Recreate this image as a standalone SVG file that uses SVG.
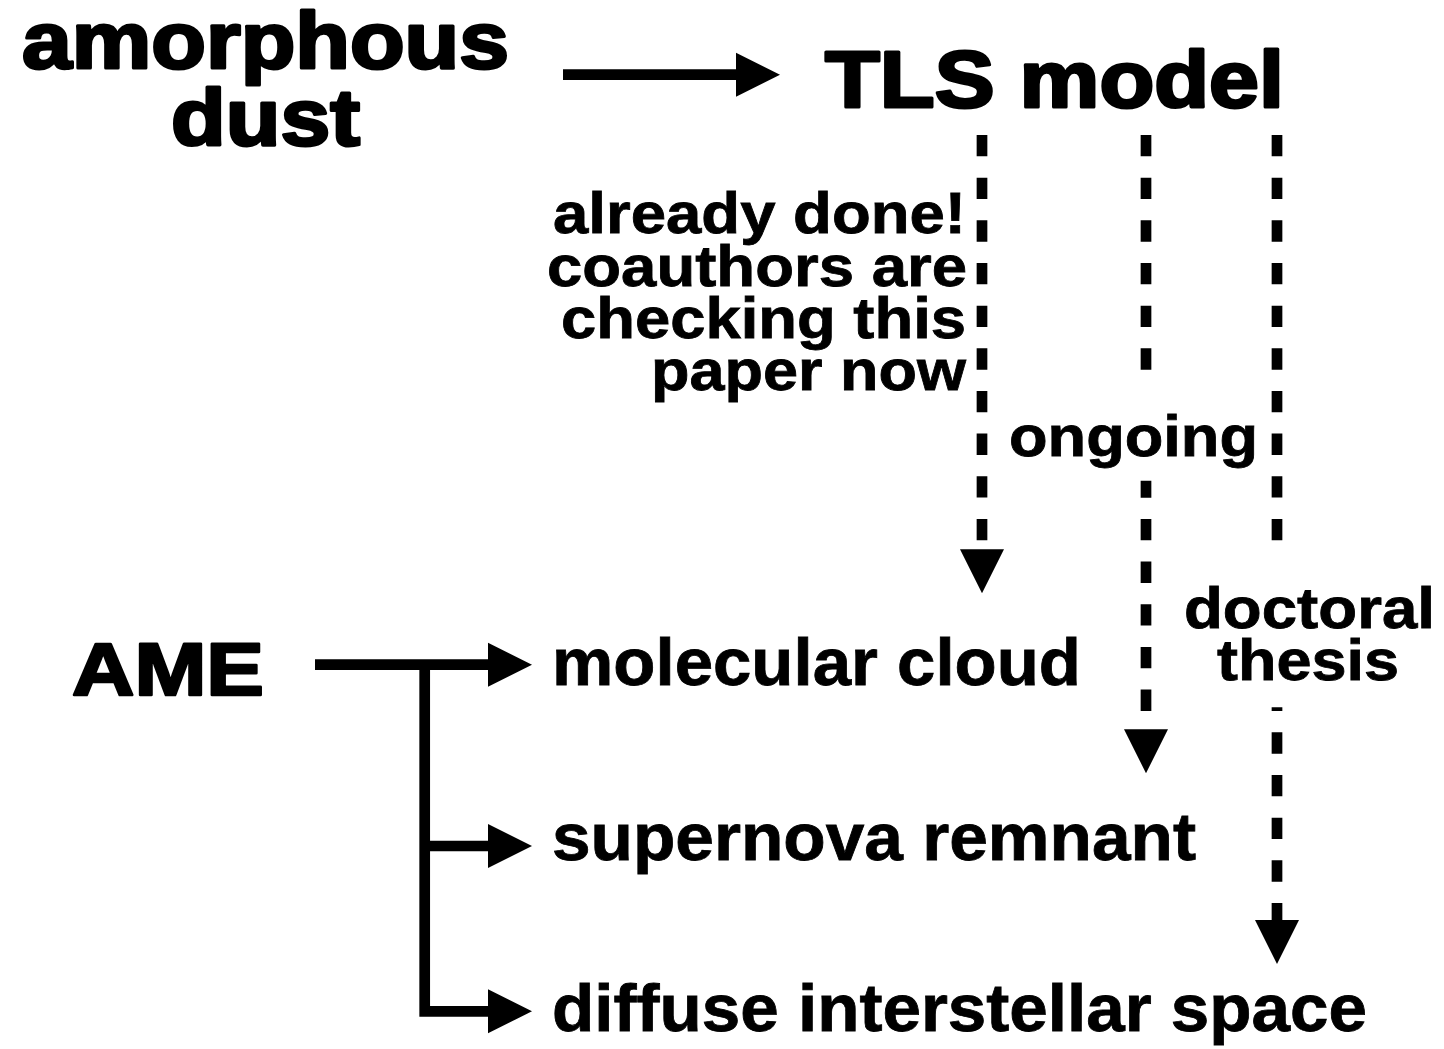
<svg xmlns="http://www.w3.org/2000/svg" width="1444" height="1049" viewBox="0 0 1444 1049">
  <style>
    text { font-family: "Liberation Sans", Arial, sans-serif; font-weight: bold; fill: #000; }
    .big { font-size: 80px; stroke: #000; stroke-width: 3px; stroke-linejoin: round; }
    .ame { font-size: 74px; stroke: #000; stroke-width: 2.5px; stroke-linejoin: round; }
    .mid { font-size: 67px; stroke: #000; stroke-width: 0.8px; }
    .lbl { font-size: 58px; stroke: #000; stroke-width: 0.8px; }
    .solid { fill: none; stroke: #000; stroke-width: 10.7; stroke-linejoin: miter; stroke-linecap: butt; }
    .dash { fill: none; stroke: #000; stroke-width: 10.7; stroke-dasharray: 21.33 21.33; }
  </style>
  <defs>
    <marker id="ah" markerUnits="userSpaceOnUse" markerWidth="46" markerHeight="46" viewBox="0 -23 46 46" refX="0" refY="0" orient="auto">
      <path d="M0,-22 L44,0 L0,22 Z" fill="#000"/>
    </marker>
  </defs>
  <rect width="1444" height="1049" fill="#fff"/>

  <g id="connectors">
    <path class="solid" d="M563,74.7 H736" marker-end="url(#ah)"/>
    <path class="solid" d="M315,664.7 H488" marker-end="url(#ah)"/>
    <path class="solid" d="M424.7,664.7 V1011.3 H488" marker-end="url(#ah)"/>
    <path class="solid" d="M424.7,846 H488" marker-end="url(#ah)"/>
    <path class="dash" d="M982,135 V549"/>
    <path d="M982,540 V549.3" stroke="none" fill="none" marker-end="url(#ah)"/>
    <path class="dash" d="M1146,135 V369.7"/>
    <path class="dash" d="M1146,480.7 V729.3" stroke-dashoffset="4.4"/>
    <path d="M1146,720 V729.3" stroke="none" fill="none" marker-end="url(#ah)"/>
    <path class="dash" d="M1277,135 V540.3"/>
    <path class="dash" d="M1277,707.3 V920" stroke-dashoffset="17.6"/>
    <path d="M1277,910 V920" stroke="none" fill="none" marker-end="url(#ah)"/>
  </g>

  <g id="node-amorphous-dust">
    <text class="big" x="22" y="68" textLength="487" lengthAdjust="spacingAndGlyphs">amorphous</text>
    <text class="big" x="171" y="145" textLength="189" lengthAdjust="spacingAndGlyphs">dust</text>
  </g>
  <g id="node-tls-model">
    <text class="big" x="825" y="107" textLength="459" lengthAdjust="spacingAndGlyphs">TLS model</text>
  </g>
  <g id="label-already-done">
    <text class="lbl" x="553" y="233" textLength="413" lengthAdjust="spacingAndGlyphs">already done!</text>
    <text class="lbl" x="547" y="286" textLength="420" lengthAdjust="spacingAndGlyphs">coauthors are</text>
    <text class="lbl" x="561" y="338" textLength="405" lengthAdjust="spacingAndGlyphs">checking this</text>
    <text class="lbl" x="651" y="390" textLength="315" lengthAdjust="spacingAndGlyphs">paper now</text>
  </g>
  <g id="label-ongoing">
    <text class="lbl" x="1009" y="456" textLength="249" lengthAdjust="spacingAndGlyphs">ongoing</text>
  </g>
  <g id="label-doctoral-thesis">
    <text class="lbl" x="1184" y="628" textLength="251" lengthAdjust="spacingAndGlyphs">doctoral</text>
    <text class="lbl" x="1217" y="680" textLength="182" lengthAdjust="spacingAndGlyphs">thesis</text>
  </g>
  <g id="node-ame">
    <text class="ame" x="72" y="695" textLength="192" lengthAdjust="spacingAndGlyphs">AME</text>
  </g>
  <g id="node-molecular-cloud">
    <text class="mid" x="552" y="685" textLength="529" lengthAdjust="spacingAndGlyphs">molecular cloud</text>
  </g>
  <g id="node-supernova-remnant">
    <text class="mid" x="552" y="860" textLength="644" lengthAdjust="spacingAndGlyphs">supernova remnant</text>
  </g>
  <g id="node-diffuse-interstellar-space">
    <text class="mid" x="552" y="1031" textLength="815" lengthAdjust="spacingAndGlyphs">diffuse interstellar space</text>
  </g>
</svg>
